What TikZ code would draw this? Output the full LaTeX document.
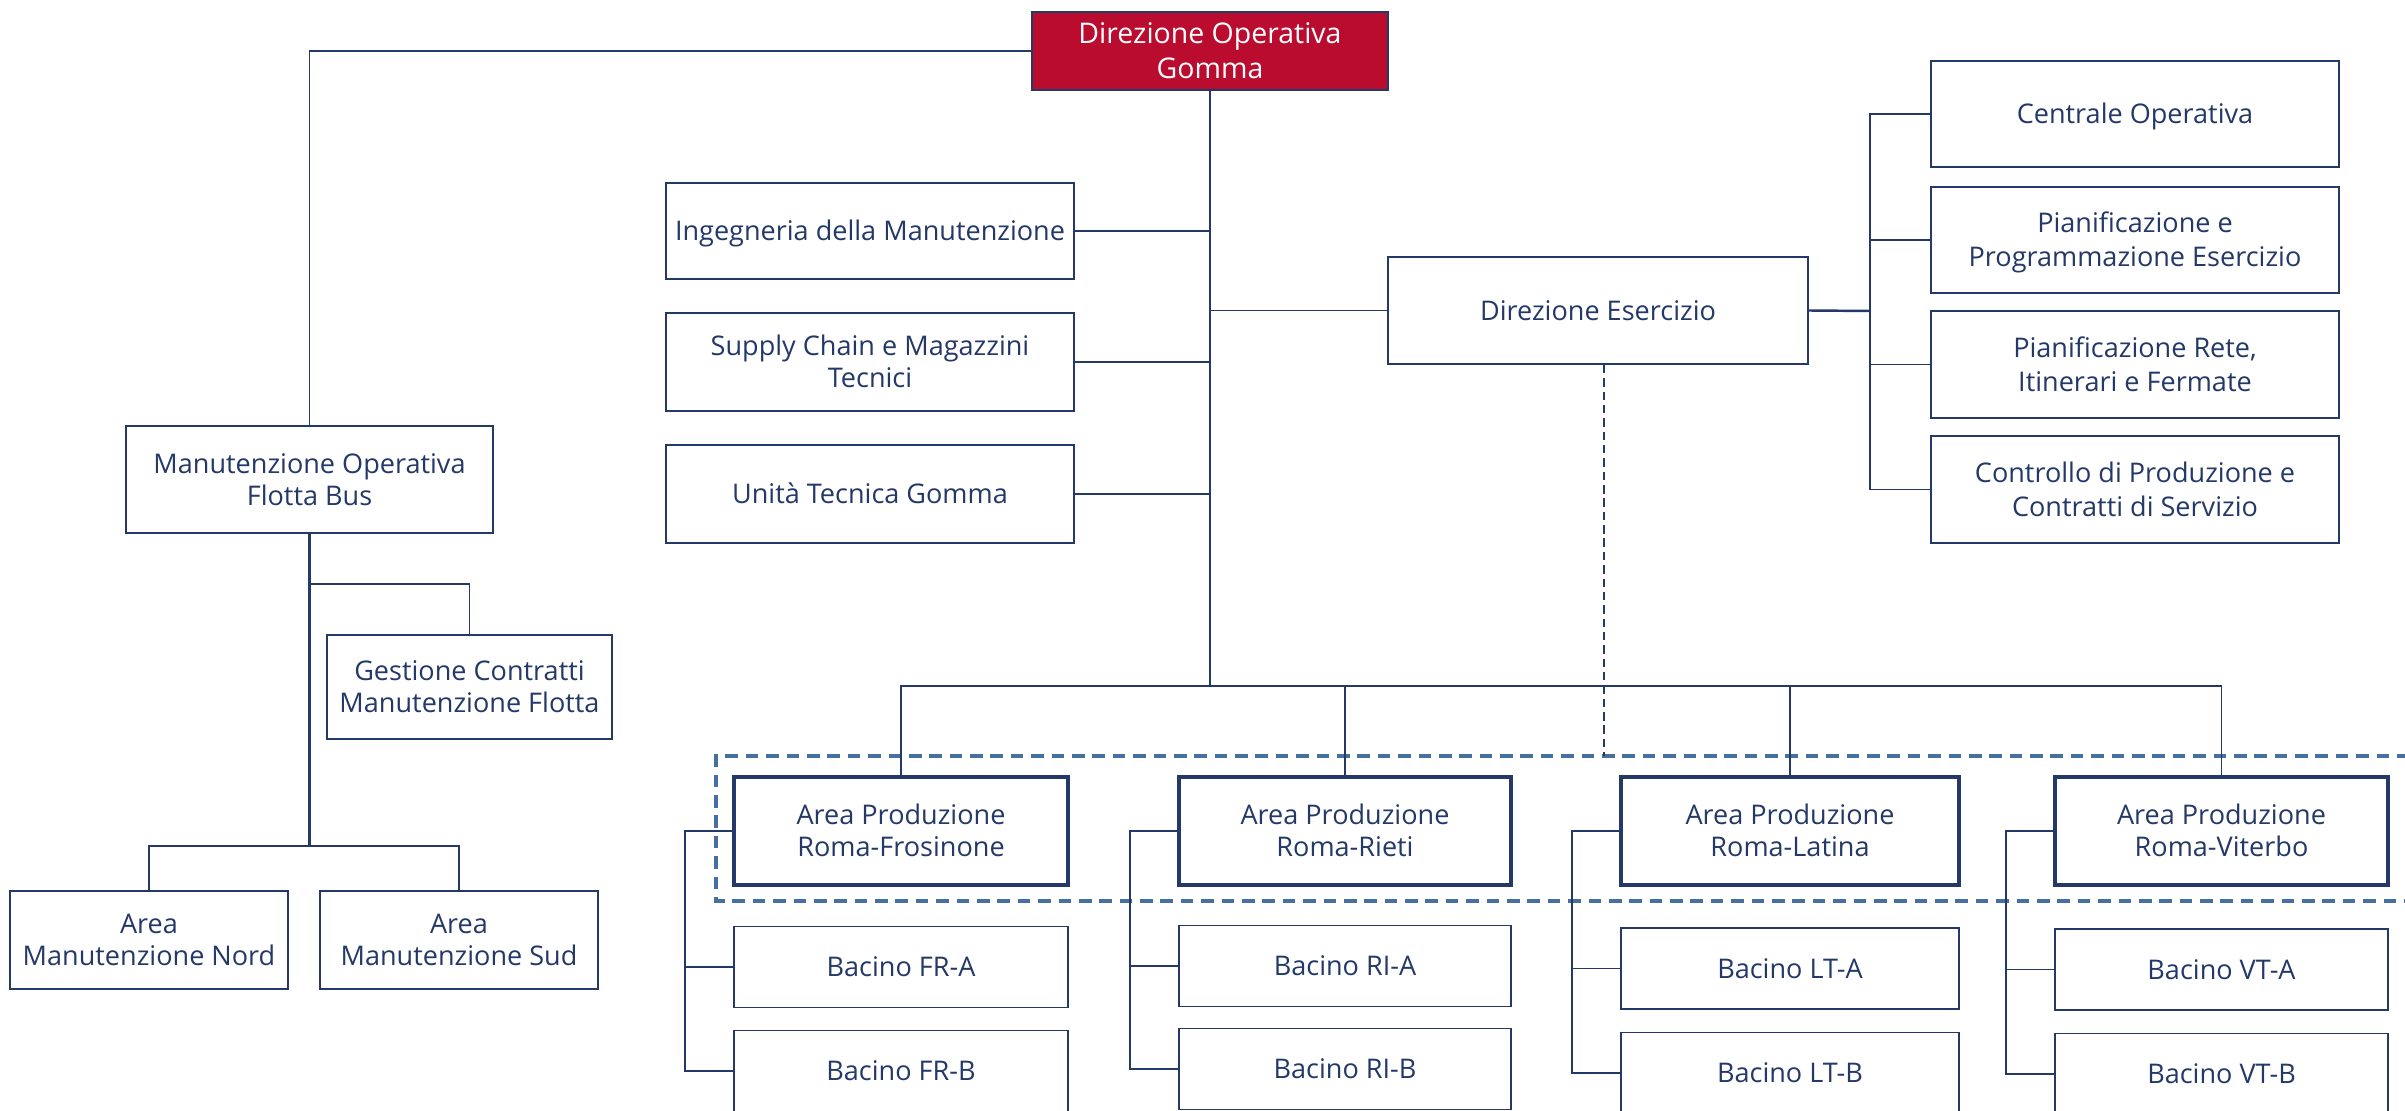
\documentclass[tikz,border=0pt]{standalone}
\usepackage{fontspec}
\usepackage{calc}
\setmainfont{Open Sans}
\usetikzlibrary{calc}
\definecolor{navy}{RGB}{36,57,104}
\definecolor{crim}{RGB}{186,12,47}
\definecolor{dashc}{RGB}{70,112,160}
% text block whose cap-height block is vertically centred
\newcommand\tx[1]{\raisebox{0pt}[\height-0.7\baselineskip+0.7139em][0pt]{\begin{tabular}[b]{@{}c@{}}#1\end{tabular}}}
\tikzset{
  bx/.style 2 args={draw=navy, line width=0.5pt, fill=white, text=navy, inner sep=0pt,
    minimum width=#1*0.1mm, minimum height=#2*0.1mm, font=\fontsize{7.7}{9.1}\selectfont},
  bxr/.style 2 args={bx={#1}{#2}, font=\fontsize{7.7}{9.7}\selectfont},
  bxk/.style 2 args={bx={#1}{#2}, line width=1pt},
  topbx/.style 2 args={bx={#1}{#2}, fill=crim, text=white, font=\fontsize{8.1}{9.9}\selectfont},
  ln/.style={draw=navy, line width=0.5pt},
  lnk/.style={draw=navy, line width=0.7pt},
  dsh/.style={draw=dashc, line width=0.95pt, dash pattern=on 3.6pt off 2.2pt},
  dshv/.style={draw=navy, line width=0.5pt, dash pattern=on 2.4pt off 1.4pt}
}
\begin{document}
\begin{tikzpicture}[x=0.1mm, y=-0.1mm]
\useasboundingbox[fill=white] (0,0) rectangle (2405,1111);
% dashed group
\draw[dsh] (2430,756) -- (716,756) -- (716,901) -- (2430,901);
% nodes
\node[topbx={356}{78}] (top) at (1210,51) {\tx{Direzione Operativa\\Gomma}};
\node[bx={367}{107}] (mob) at (309.5,479.5) {\tx{Manutenzione Operativa\\Flotta Bus}};
\node[bx={285}{104}] (gcm) at (469.5,687) {\tx{Gestione Contratti\\Manutenzione Flotta}};
\node[bx={278}{98}] (amn) at (149,940) {\tx{Area\\Manutenzione Nord}};
\node[bx={278}{98}] (ams) at (459,940) {\tx{Area\\Manutenzione Sud}};
\node[bx={408}{96}] (ing) at (870,231) {\tx{Ingegneria della Manutenzione}};
\node[bx={408}{98}] (sup) at (870,362) {\tx{Supply Chain e Magazzini\\Tecnici}};
\node[bx={408}{98}] (ute) at (870,494) {\tx{Unità Tecnica Gomma}};
\node[bx={420}{107}] (des) at (1598,310.5) {\tx{Direzione Esercizio}};
\node[bxr={408}{106}] (co) at (2135,114) {\tx{Centrale Operativa}};
\node[bxr={408}{106}] (ppe) at (2135,240) {\tx{Pianificazione e\\Programmazione Esercizio}};
\node[bxr={408}{107}] (prf) at (2135,364.5) {\tx{Pianificazione Rete,\\Itinerari e Fermate}};
\node[bxr={408}{107}] (cps) at (2135,489.5) {\tx{Controllo di Produzione e\\Contratti di Servizio}};
% area produzione
\node[bxk={334}{108}] (fr) at (901,831) {\tx{Area Produzione\\Roma-Frosinone}};
\node[bxk={332}{108}] (ri) at (1345,831) {\tx{Area Produzione\\Roma-Rieti}};
\node[bxk={338}{108}] (lt) at (1790,831) {\tx{Area Produzione\\Roma-Latina}};
\node[bxk={333}{108}] (vt) at (2221.5,831) {\tx{Area Produzione\\Roma-Viterbo}};
\node[bx={334}{81}] (fra) at (901,967) {\tx{Bacino FR-A}};
\node[bx={334}{81}] (frb) at (901,1071) {\tx{Bacino FR-B}};
\node[bx={332}{81}] (ria) at (1345,966) {\tx{Bacino RI-A}};
\node[bx={332}{81}] (rib) at (1345,1069) {\tx{Bacino RI-B}};
\node[bx={338}{81}] (lta) at (1790,968.5) {\tx{Bacino LT-A}};
\node[bx={338}{81}] (ltb) at (1790,1073) {\tx{Bacino LT-B}};
\node[bx={333}{81}] (vta) at (2221.5,969.5) {\tx{Bacino VT-A}};
\node[bx={333}{81}] (vtb) at (2221.5,1074) {\tx{Bacino VT-B}};
% coordinates
\coordinate (bar) at (1210,686);
\coordinate (gj) at (309.5,584);
\coordinate (mj) at (309.5,846);
\coordinate (rb) at (1870,311);
\coordinate (dend) at (1604,756);
% connectors
\draw[ln] (top.west) -| (mob.north);
\draw[lnk] (top.south) -- (bar);
\draw[ln] (ing.east) -- (ing.east -| bar);
\draw[ln] (sup.east) -- (sup.east -| bar);
\draw[ln] (ute.east) -- (ute.east -| bar);
\draw[ln] (des.west) -- (des.west -| bar);
\draw[ln] (fr.north) |- (bar);
\draw[ln] (ri.north) |- (bar);
\draw[ln] (lt.north) |- (bar);
\draw[ln] (vt.north) |- (bar);
\draw[lnk] (des.east) -- (rb);
\draw[ln] (co.west) -| (rb);
\draw[ln] (ppe.west) -| (rb);
\draw[ln] (prf.west) -| (rb);
\draw[ln] (cps.west) -| (rb);
\draw[dshv] (dend |- des.south) -- (dend);
\draw[lnk] (mob.south) -- (mj);
\draw[ln] (gcm.north) |- (gj);
\draw[ln] (amn.north) |- (mj);
\draw[ln] (ams.north) |- (mj);
\foreach \a/\b/\c in {fr/fra/frb, ri/ria/rib, lt/lta/ltb, vt/vta/vtb}{
  \draw[ln] (\a.west) -- ++(-47,0) |- (\c.west);
  \draw[ln] (\b.west) -- ++(-47,0);
}
\end{tikzpicture}
\end{document}
